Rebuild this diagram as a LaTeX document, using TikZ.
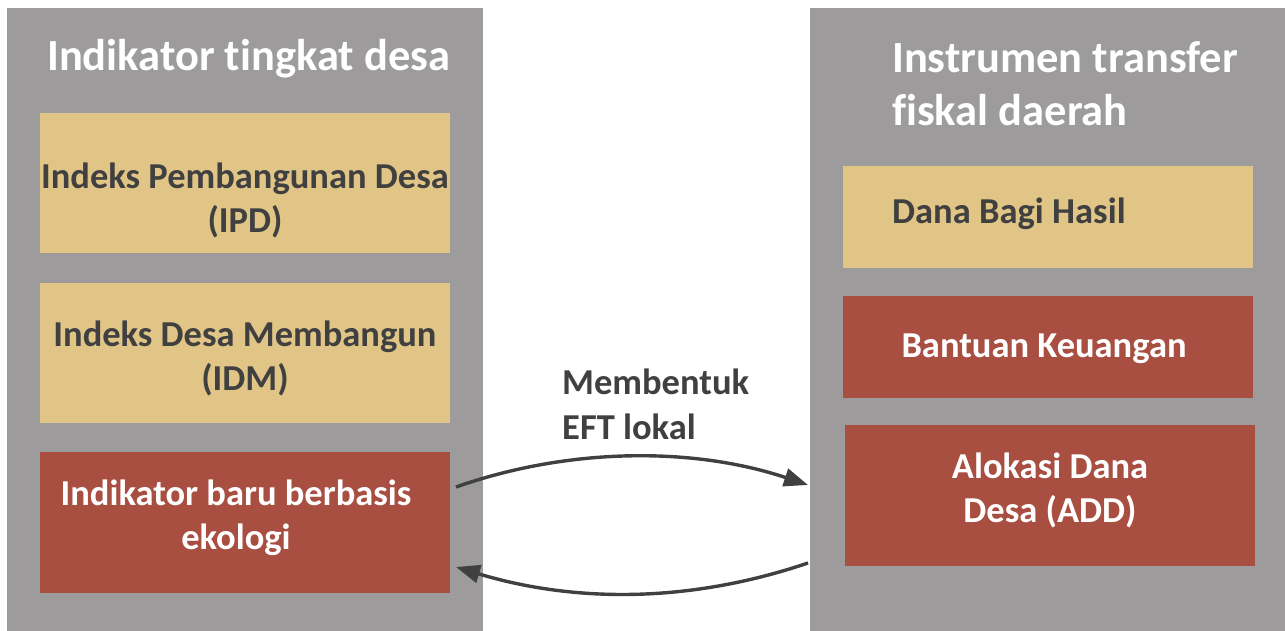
\documentclass[tikz,border=0pt]{standalone}
\usepackage{fontspec}
\setmainfont{Carlito}[RawFeature={-liga;-clig;-dlig}]
\usetikzlibrary{arrows.meta}
\definecolor{panelgray}{RGB}{158,155,156}
\definecolor{tanfill}{RGB}{224,197,135}
\definecolor{redfill}{RGB}{169,79,66}
\definecolor{darktext}{RGB}{64,64,64}
\tikzset{
  panel/.style={fill=panelgray, draw=none, anchor=north west, inner sep=0, outer sep=0},
  tanbox/.style={fill=tanfill, draw=none, anchor=north west, inner sep=0, outer sep=0},
  redbox/.style={fill=redfill, draw=none, anchor=north west, inner sep=0, outer sep=0},
  titletext/.style={text=white, font=\bfseries\fontsize{44.5}{53}\selectfont, align=left, inner sep=0, anchor=base west},
  boxtext/.style={font=\bfseries\fontsize{36.5}{44}\selectfont, align=center, inner sep=0, anchor=base},
  arr/.style={draw=darktext, line width=3.4pt, -{Triangle[length=24pt,width=18pt]}}
}
\begin{document}
\begin{tikzpicture}[x=1pt, y=-1pt]
  \useasboundingbox (0,0) rectangle (1285,631);
  % two grey panels
  \node[panel, minimum width=476, minimum height=623] (lpanel) at (7,8) {};
  \node[panel, minimum width=475, minimum height=623] (rpanel) at (810,8) {};
  % left column boxes
  \node[tanbox, minimum width=410, minimum height=140] (ipd) at (40,113) {};
  \node[tanbox, minimum width=410, minimum height=140] (idm) at (40,283) {};
  \node[redbox, minimum width=410, minimum height=141] (eco) at (40,452) {};
  % right column boxes
  \node[tanbox, minimum width=410, minimum height=102] (dbh) at (843,166) {};
  \node[redbox, minimum width=410, minimum height=102] (bk) at (843,296) {};
  \node[redbox, minimum width=410, minimum height=141] (add) at (845,425) {};
  % titles (anchored at the baseline of the last line)
  \node[titletext] (ltitle) at (47,71) {Indikator tingkat desa};
  \node[titletext] (rtitle) at (892,126) {Instrumen transfer\\fiskal daerah};
  % box labels
  \node[boxtext, text=darktext] (ipdtext) at (245,233) {Indeks Pembangunan Desa\\(IPD)};
  \node[boxtext, text=darktext] (idmtext) at (245,390) {Indeks Desa Membangun\\(IDM)};
  \node[boxtext, text=white] (ecotext) at (236,549) {Indikator baru berbasis\\ekologi};
  \node[boxtext, text=darktext, anchor=base west] (dbhtext) at (892,224) {Dana Bagi Hasil};
  \node[boxtext, text=white] (bktext) at (1044,357) {Bantuan Keuangan};
  \node[boxtext, text=white] (addtext) at (1050,522) {Alokasi Dana\\Desa (ADD)};
  % connector label
  \node[boxtext, text=darktext, align=left, anchor=base west, font=\bfseries\fontsize{36.5}{45}\selectfont] (eft) at (562,439) {Membentuk\\EFT lokal};
  % two-way connectors
  \draw[arr] ([xshift=6pt, yshift=35.5pt]eco.east) .. controls (570,447) and (694,447) .. ([xshift=-2pt, yshift=-165.5pt]rpanel.west);
  \draw[arr] ([xshift=-2pt, yshift=-243.5pt]rpanel.west) .. controls (690,603) and (575,603) .. ([xshift=6pt, yshift=-44.5pt]eco.east);
\end{tikzpicture}
\end{document}
